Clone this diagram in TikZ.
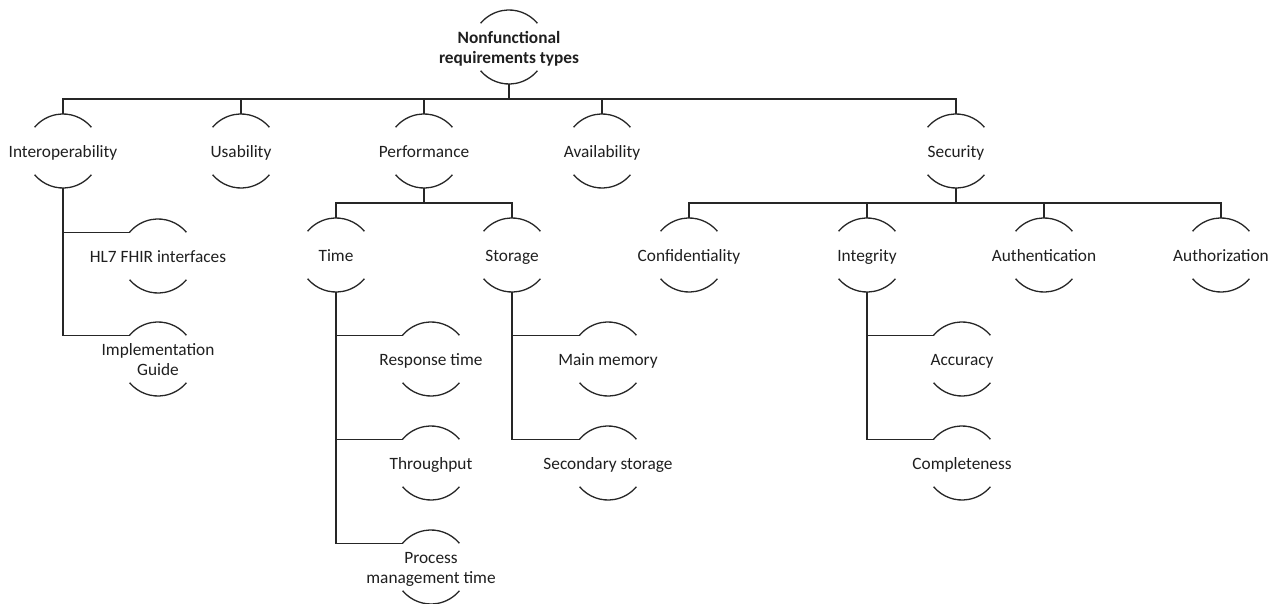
\documentclass[tikz,border=0pt]{standalone}
\usepackage{fontspec}
\setmainfont{Carlito}
\newcommand\lbl[1]{\makebox[0pt]{\raisebox{-2.5pt}[\height][\depth]{\begin{tabular}{@{}c@{}}#1\end{tabular}}}}
\tikzset{
  nf/.style={circle, minimum size=74pt, inner sep=0pt, outer sep=0pt,
    font=\fontsize{17.3}{20.5}\selectfont, text=black!88},
  ln/.style={line width=1.3pt, draw=black!85},
}
\begin{document}
\begin{tikzpicture}[x=1pt,y=1pt]
\fill[white] (0,0) rectangle (1279,-604);
\useasboundingbox (0,0) rectangle (1279,-604);
% nodes
\node[nf] (root) at (509,-47) {\lbl{\bfseries Nonfunctional\\\bfseries requirements types}};
\node[nf] (interop) at (63,-151) {\lbl{Interoperability}};
\node[nf] (usab) at (241,-151) {\lbl{Usability}};
\node[nf] (perf) at (424,-151) {\lbl{Performance}};
\node[nf] (avail) at (602,-151) {\lbl{Availability}};
\node[nf] (secur) at (956,-151) {\lbl{Security}};
\node[nf] (time) at (336,-255) {\lbl{Time}};
\node[nf] (stor) at (512,-255) {\lbl{Storage}};
\node[nf] (conf) at (689,-255) {\lbl{Confidentiality}};
\node[nf] (integ) at (867,-255) {\lbl{Integrity}};
\node[nf] (authn) at (1044,-255) {\lbl{Authentication}};
\node[nf] (authz) at (1221,-255) {\lbl{Authorization}};
\node[nf] (hl7) at (158,-256) {\lbl{HL7 FHIR interfaces}};
\node[nf] (impl) at (158,-359) {\lbl{Implementation\\Guide}};
\node[nf] (resp) at (431,-359) {\lbl{Response time}};
\node[nf] (thru) at (431,-463) {\lbl{Throughput}};
\node[nf] (proc) at (431,-567) {\lbl{Process\\management time}};
\node[nf] (mainm) at (608,-359) {\lbl{Main memory}};
\node[nf] (secst) at (608,-463) {\lbl{Secondary storage}};
\node[nf] (accu) at (962,-359) {\lbl{Accuracy}};
\node[nf] (compl) at (962,-463) {\lbl{Completeness}};
% arcs
\foreach \n in {root,interop,usab,perf,avail,secur,time,stor,conf,integ,authn,authz,hl7,impl,resp,thru,proc,mainm,secst,accu,compl}{
  \draw[ln] (\n.40) arc[start angle=40, end angle=140, radius=37pt];
  \draw[ln] (\n.-140) arc[start angle=-140, end angle=-40, radius=37pt];
}
% top-down connectors
\foreach \c in {interop,usab,perf,avail,secur}
  \draw[ln] (root.south) -- ++(0,-15) -| (\c.north);
\foreach \c in {time,stor}
  \draw[ln] (perf.south) -- ++(0,-15) -| (\c.north);
\foreach \c in {conf,integ,authn,authz}
  \draw[ln] (secur.south) -- ++(0,-15) -| (\c.north);
% side connectors
\foreach \c in {hl7,impl}
  \draw[ln] (interop.south) |- (\c.140);
\foreach \c in {resp,thru,proc}
  \draw[ln] (time.south) |- (\c.140);
\foreach \c in {mainm,secst}
  \draw[ln] (stor.south) |- (\c.140);
\foreach \c in {accu,compl}
  \draw[ln] (integ.south) |- (\c.140);
\end{tikzpicture}
\end{document}
